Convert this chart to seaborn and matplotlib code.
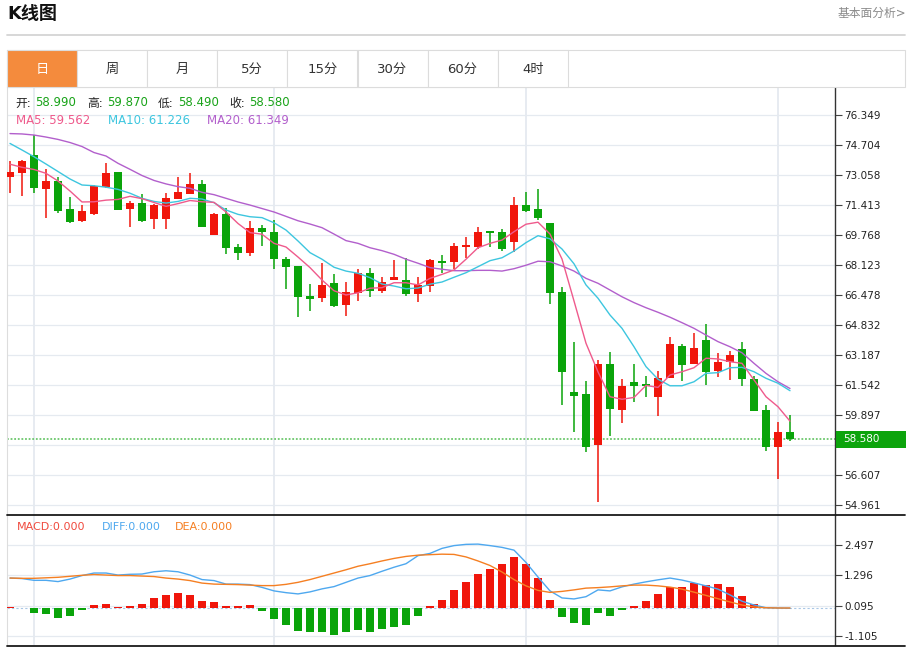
import numpy as np
import seaborn as sns
import matplotlib.pyplot as plt
from matplotlib.patches import Rectangle
from matplotlib.lines import Line2D
from matplotlib.transforms import blended_transform_factory

# daily candles, oldest first
opens = [72.97, 73.15, 74.16, 72.31, 72.75, 71.18, 70.52, 70.94, 72.42, 73.21,
         71.21, 71.52, 70.65, 70.65, 71.73, 72.03, 72.57, 69.77, 70.92, 69.09,
         68.80, 70.17, 69.95, 68.47, 68.09, 66.41, 66.30, 67.12, 65.91, 66.59,
         67.69, 66.70, 67.30, 67.30, 66.53, 66.99, 68.36, 68.30, 69.11, 69.09,
         69.97, 69.93, 69.40, 71.41, 71.19, 70.41, 66.64, 61.14, 61.05, 58.27,
         62.72, 60.16, 61.71, 61.60, 60.90, 61.91, 63.67, 62.69, 64.01, 62.31,
         62.82, 63.52, 61.87, 60.17, 58.14, 58.99]
highs = [73.84, 73.88, 75.25, 73.37, 72.93, 71.87, 71.41, 72.53, 73.70, 73.23,
         71.63, 72.02, 71.45, 72.06, 72.93, 73.15, 72.78, 70.96, 71.27, 69.28,
         70.54, 70.30, 70.59, 68.55, 68.09, 67.08, 68.22, 67.63, 67.17, 67.89,
         67.94, 67.48, 68.40, 68.49, 67.45, 68.44, 68.67, 69.33, 69.68, 70.22,
         69.99, 70.08, 71.84, 72.11, 72.29, 70.44, 66.90, 63.90, 61.78, 62.91,
         63.34, 61.87, 62.69, 62.05, 62.31, 64.19, 63.79, 64.38, 64.89, 63.31,
         63.41, 63.92, 62.05, 60.45, 59.50, 59.87]
lows = [72.06, 71.92, 72.06, 70.68, 70.99, 70.44, 70.47, 70.87, 72.33, 71.14,
        70.22, 70.50, 70.11, 70.11, 71.72, 72.02, 70.19, 69.75, 68.71, 68.40,
        68.63, 69.17, 67.92, 66.79, 65.26, 65.62, 66.11, 65.84, 65.33, 66.15,
        66.39, 66.61, 67.30, 66.44, 66.09, 66.63, 67.67, 67.89, 68.51, 69.02,
        69.13, 68.87, 68.82, 71.05, 70.59, 65.99, 60.45, 58.95, 57.88, 55.14,
        58.76, 59.44, 60.59, 60.87, 59.86, 61.91, 61.76, 62.69, 61.54, 62.00,
        61.82, 61.49, 60.12, 57.94, 56.39, 58.49]
closes = [73.24, 73.83, 72.33, 72.75, 71.10, 70.48, 71.07, 72.47, 73.19, 71.16,
          71.51, 70.52, 71.40, 71.80, 72.13, 72.58, 70.21, 70.92, 69.07, 68.80,
          70.14, 69.93, 68.44, 68.00, 66.37, 66.24, 67.04, 65.89, 66.63, 67.67,
          66.71, 67.17, 67.48, 66.53, 67.04, 68.40, 68.25, 69.17, 69.20, 69.93,
          69.88, 68.98, 71.41, 71.08, 70.68, 66.57, 62.27, 60.92, 58.16, 62.71,
          60.20, 61.49, 61.50, 61.49, 61.94, 63.77, 62.64, 63.56, 62.24, 62.79,
          63.19, 61.86, 60.12, 58.16, 58.98, 58.58]

ma5 = [73.65, 73.48, 73.36, 73.15, 72.73, 72.18, 71.58, 71.59, 71.68, 71.72,
       71.89, 71.76, 71.55, 71.34, 71.49, 71.66, 71.59, 71.56, 71.03, 70.40,
       69.90, 69.81, 69.31, 69.11, 68.56, 67.98, 67.30, 66.71, 66.48, 66.60,
       66.85, 66.88, 67.15, 67.15, 67.03, 67.39, 67.61, 67.85, 68.44, 69.07,
       69.31, 69.49, 69.95, 70.36, 70.47, 69.82, 68.45, 66.15, 63.83, 62.26,
       60.90, 60.76, 60.86, 61.52, 61.41, 62.09, 62.27, 62.49, 63.01, 62.97,
       62.82, 62.73, 61.82, 60.90, 60.35, 59.56]
ma10 = [74.79, 74.43, 74.06, 73.66, 73.25, 72.84, 72.51, 72.47, 72.39, 72.27,
        72.06, 71.78, 71.61, 71.52, 71.61, 71.78, 71.74, 71.54, 71.14, 70.90,
        70.77, 70.72, 70.44, 70.04, 69.44, 68.80, 68.44, 68.00, 67.79, 67.67,
        67.43, 67.08, 66.97, 66.82, 66.86, 67.07, 67.19, 67.45, 67.70, 68.03,
        68.36, 68.52, 68.89, 69.35, 69.73, 69.56, 69.00, 68.19, 67.03, 66.30,
        65.38, 64.65, 63.64, 62.55, 61.86, 61.50, 61.50, 61.72, 62.18, 62.22,
        62.49, 62.51, 62.27, 61.91, 61.64, 61.23]
ma20 = [75.33, 75.31, 75.25, 75.14, 75.01, 74.84, 74.62, 74.29, 74.10, 73.70,
        73.37, 73.03, 72.76, 72.57, 72.42, 72.33, 72.11, 71.98, 71.78, 71.58,
        71.41, 71.22, 71.03, 70.79, 70.55, 70.37, 70.17, 69.82, 69.46, 69.31,
        69.07, 68.91, 68.71, 68.44, 68.22, 67.98, 67.89, 67.81, 67.81, 67.83,
        67.83, 67.79, 67.92, 68.11, 68.33, 68.30, 68.07, 67.79, 67.39, 67.12,
        66.75, 66.38, 66.06, 65.78, 65.53, 65.26, 64.96, 64.65, 64.28, 63.92,
        63.64, 63.31, 62.73, 62.18, 61.72, 61.35]

diff = [1.19, 1.17, 1.10, 1.10, 1.05, 1.15, 1.29, 1.39, 1.39, 1.31,
        1.34, 1.35, 1.44, 1.48, 1.44, 1.31, 1.13, 1.09, 0.95, 0.95,
        0.93, 0.82, 0.68, 0.61, 0.56, 0.64, 0.76, 0.85, 1.02, 1.19,
        1.29, 1.46, 1.62, 1.76, 2.08, 2.17, 2.37, 2.48, 2.53, 2.54,
        2.48, 2.41, 2.30, 1.81, 1.23, 0.68, 0.40, 0.36, 0.45, 0.72,
        0.68, 0.84, 0.95, 1.04, 1.12, 1.19, 1.11, 1.00, 0.88, 0.75,
        0.52, 0.27, 0.12, 0.01, 0.00, -0.01]
dea = [1.19, 1.18, 1.18, 1.20, 1.22, 1.26, 1.30, 1.33, 1.31, 1.29,
       1.29, 1.27, 1.25, 1.19, 1.15, 1.09, 0.99, 0.95, 0.94, 0.93,
       0.91, 0.89, 0.89, 0.94, 1.02, 1.13, 1.26, 1.39, 1.52, 1.66,
       1.76, 1.87, 1.97, 2.05, 2.10, 2.12, 2.14, 2.13, 2.03, 1.87,
       1.69, 1.43, 1.13, 0.88, 0.70, 0.62, 0.66, 0.72, 0.79, 0.81,
       0.84, 0.88, 0.91, 0.91, 0.88, 0.83, 0.75, 0.63, 0.50, 0.37,
       0.24, 0.12, 0.04, 0.01, 0.00, 0.00]
macd = [0.03, 0.01, -0.21, -0.25, -0.40, -0.32, -0.09, 0.13, 0.15, 0.02,
        0.09, 0.15, 0.38, 0.53, 0.58, 0.52, 0.27, 0.25, 0.07, 0.07,
        0.11, -0.10, -0.45, -0.67, -0.93, -0.97, -0.97, -1.06, -0.96, -0.89,
        -0.94, -0.84, -0.75, -0.67, -0.32, 0.08, 0.33, 0.72, 1.02, 1.35,
        1.55, 1.75, 2.01, 1.75, 1.21, 0.31, -0.37, -0.59, -0.66, -0.18,
        -0.33, -0.07, 0.07, 0.29, 0.56, 0.84, 0.84, 0.98, 0.91, 0.95,
        0.83, 0.49, 0.14, 0.03, 0.01, 0.01]

price_ticks = [76.349, 74.704, 73.058, 71.413, 69.768, 68.123, 66.478, 64.832,
               63.187, 61.542, 59.897, 58.252, 56.607, 54.961]
macd_ticks = [2.497, 1.296, 0.095, -1.105]
month_marks = [2, 22, 43, 64]
tabs = ["日", "周", "月", "5分", "15分", "30分", "60分", "4时"]
last_price = 58.580

RED, GREEN = "#f0160b", "#0aa40a"
C5, C10, C20 = "#ef5a8c", "#3dc6df", "#b25fcc"
CDIFF, CDEA = "#4ea8ef", "#f57f22"

sns.set_style("white")
plt.rcParams["font.family"] = ["DejaVu Sans", "Noto Sans CJK SC"]

W, H = 909, 647
fig = plt.figure(figsize=(W / 100, H / 100), dpi=100)


def fbox(x0, y0, x1, y1):
    return [x0 / W, 1 - y1 / H, (x1 - x0) / W, (y1 - y0) / H]


def fxy(x, y):
    return x / W, 1 - y / H


def hline(x0, x1, y, color, lw):
    fig.add_artist(Line2D([x0 / W, x1 / W], [1 - y / H, 1 - y / H],
                          color=color, lw=lw, transform=fig.transFigure))


idx = np.arange(len(closes))
o, h, l, c = map(np.array, (opens, highs, lows, closes))
cols = [RED if cc >= oo else GREEN for oo, cc in zip(o, c)]

# ---- title / tabs
fig.text(*fxy(7, 14), "K线图", fontsize=13, fontweight="bold", va="center", color="#111")
fig.text(*fxy(906, 13), "基本面分析>", fontsize=8.5, va="center", ha="right", color="#8a8a8a")
hline(7, 905, 35, "#d4d4d4", 1.3)
fig.add_artist(Rectangle(fxy(7, 87), 898 / W, 37 / H, transform=fig.transFigure,
                         facecolor="white", edgecolor="#dcdcdc", lw=0.8))
for k, t in enumerate(tabs):
    x0 = 7 + 70.1 * k
    fig.add_artist(Rectangle(fxy(x0, 87), 70.1 / W, 37 / H, transform=fig.transFigure,
                             facecolor="#f48b3d" if k == 0 else "white",
                             edgecolor="#dcdcdc", lw=0.8))
    fig.text(*fxy(x0 + 35, 69), t, fontsize=9.5, ha="center", va="center",
             color="white" if k == 0 else "#333")

# ---- price panel
ax = fig.add_axes(fbox(7, 88, 835, 515))
ax2 = fig.add_axes(fbox(7, 515, 835, 645), sharex=ax)

k_px = 1.6452 / 30
ax.set_ylim(76.349 - 390 * k_px - 10 * k_px, 76.349 + 27 * k_px)
ax.set_xlim(-3 / 12, 825 / 12)

for m in month_marks:
    ax.axvline(m, color="#e0e6ed", lw=1.1, zorder=0)
    ax2.axvline(m, color="#e0e6ed", lw=1.1, zorder=0)

ax.vlines(idx, l, h, colors=cols, lw=1.1, zorder=3)
body = np.maximum(np.abs(c - o), 0.06)
ax.bar(idx, body, bottom=np.minimum(o, c), width=0.7, color=cols, lw=0, zorder=4)

sns.lineplot(x=idx, y=ma20, ax=ax, color=C20, lw=1.0, zorder=5)
sns.lineplot(x=idx, y=ma10, ax=ax, color=C10, lw=1.0, zorder=5)
sns.lineplot(x=idx, y=ma5, ax=ax, color=C5, lw=1.0, zorder=5)

ax.axhline(last_price, color="#6cc76c", lw=1.3, ls=(0, (1, 1)), zorder=2)

ax.set_yticks(price_ticks)
# the 58.252 label sits under the last-price box
ax.set_yticklabels(["" if abs(v - 58.252) < 1e-6 else f"{v:.3f}" for v in price_ticks])
ax.yaxis.tick_right()
ax.tick_params(axis="y", direction="out", length=5, width=0.8, color="#444",
               labelsize=7.5, labelcolor="#222", pad=1.5)
ax.tick_params(axis="x", bottom=False, labelbottom=False)
ax.grid(True, axis="y", color="#e5eaf0", lw=0.9)
ax.set_axisbelow(True)
ax.set_xlabel("")
ax.set_ylabel("")
for s in ("top", "bottom"):
    ax.spines[s].set_visible(False)
ax.spines["left"].set_color("#dddddd")
ax.spines["right"].set_color("#333")
ax.spines["right"].set_linewidth(1.0)

tr = blended_transform_factory(ax.transAxes, ax.transData)
ax.add_patch(Rectangle((1.0 + 1 / 828, last_price - 8.5 * k_px), 70 / 828, 17 * k_px,
                       transform=tr, facecolor="#0ca40c", edgecolor="none",
                       clip_on=False, zorder=10))
ax.text(1.0 + 8 / 828, last_price, f"{last_price:.3f}", transform=tr, color="white",
        fontsize=7.5, va="center", ha="left", zorder=11, clip_on=False)

# header texts
hdr = [("开:", 15, "#222"), ("58.990", 35, "#19a319"),
       ("高:", 87, "#222"), ("59.870", 107, "#19a319"),
       ("低:", 158, "#222"), ("58.490", 178, "#19a319"),
       ("收:", 229, "#222"), ("58.580", 249, "#19a319")]
for t, x, col in hdr:
    fig.text(*fxy(x, 103), t, fontsize=8.5, va="center", color=col)
for t, x, col in [("MA5: 59.562", 16, C5), ("MA10: 61.226", 108, C10), ("MA20: 61.349", 207, C20)]:
    fig.text(*fxy(x, 121), t, fontsize=8.5, va="center", color=col)

# ---- MACD panel
m_px = 0.03975
ax2.set_ylim(-(645 - 608) * m_px, (608 - 515) * m_px)
ax2.axhline(0, color="#a9c7e6", lw=0.8, ls=(0, (2, 2)), zorder=1)
ax2.bar(idx, macd, width=0.65, color=[RED if v >= 0 else GREEN for v in macd], lw=0, zorder=3)
sns.lineplot(x=idx, y=diff, ax=ax2, color=CDIFF, lw=1.0, zorder=4)
sns.lineplot(x=idx, y=dea, ax=ax2, color=CDEA, lw=1.0, zorder=4)

ax2.set_yticks(macd_ticks)
ax2.set_yticklabels([f"{v:.3f}" for v in macd_ticks])
ax2.yaxis.tick_right()
ax2.tick_params(axis="y", direction="out", length=5, width=0.8, color="#444",
                labelsize=7.5, labelcolor="#222", pad=1.5)
ax2.tick_params(axis="x", bottom=False, labelbottom=False)
ax2.grid(True, axis="y", color="#e5eaf0", lw=0.9)
ax2.set_axisbelow(True)
ax2.set_xlabel("")
ax2.set_ylabel("")
for s in ("top", "bottom"):
    ax2.spines[s].set_visible(False)
ax2.spines["left"].set_color("#dddddd")
ax2.spines["right"].set_color("#333")
ax2.spines["right"].set_linewidth(1.0)

for t, x, col in [("MACD:0.000", 17, "#f04a3e"), ("DIFF:0.000", 102, CDIFF), ("DEA:0.000", 175, CDEA)]:
    fig.text(*fxy(x, 527), t, fontsize=8, va="center", color=col)

hline(7, 905, 515, "#1a1a1a", 1.3)
hline(7, 905, 645.5, "#1a1a1a", 1.3)

fig.savefig("out.png", dpi=100)
